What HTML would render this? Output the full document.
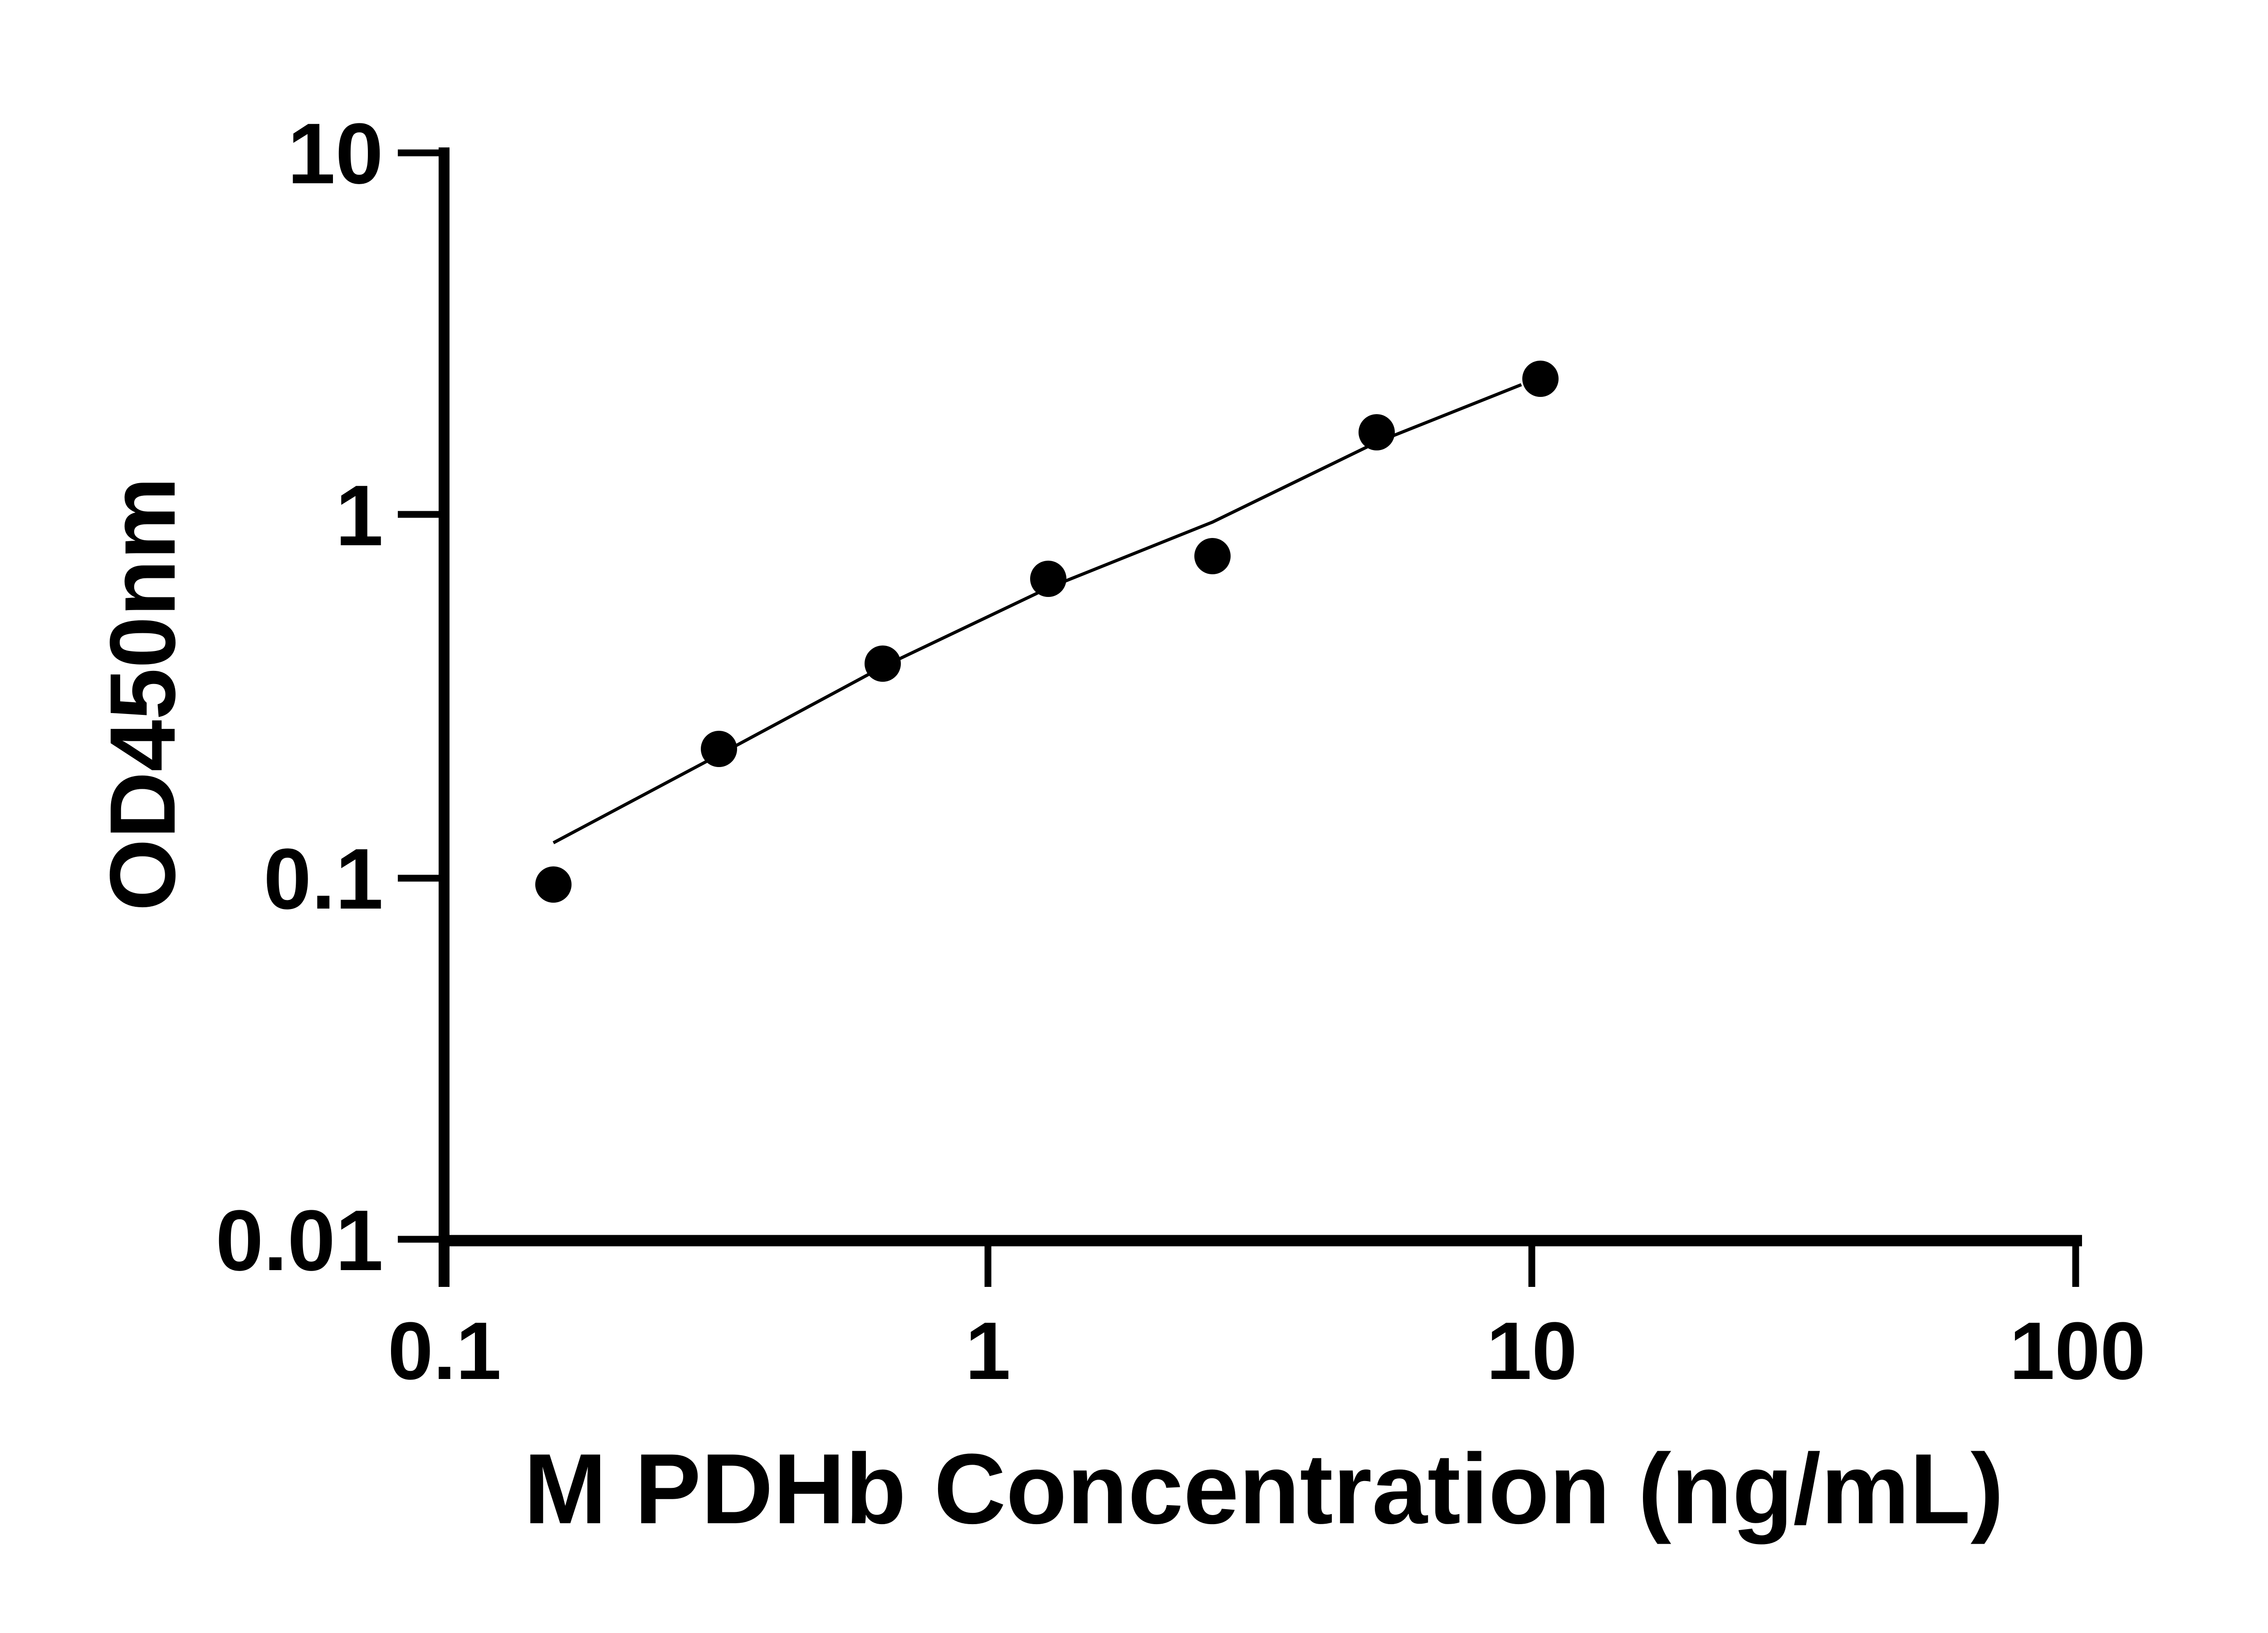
<!DOCTYPE html>
<html><head><style>
html,body{margin:0;padding:0;background:#fff;}
svg{display:block;}
</style></head><body>
<svg width="5130" height="3600" viewBox="0 0 5130 3600" xmlns="http://www.w3.org/2000/svg">
<g stroke="#000" fill="none" stroke-linecap="butt">
<line x1="979" y1="325" x2="979" y2="2837" stroke-width="24"/>
<line x1="968" y1="2735" x2="4590" y2="2735" stroke-width="25"/>
<line x1="877" y1="337" x2="990" y2="337" stroke-width="15"/>
<line x1="877" y1="1134" x2="979" y2="1134" stroke-width="15"/>
<line x1="877" y1="1936" x2="979" y2="1936" stroke-width="15"/>
<line x1="877" y1="2732" x2="979" y2="2732" stroke-width="15"/>
<line x1="2178" y1="2735" x2="2178" y2="2837" stroke-width="15"/>
<line x1="3377" y1="2735" x2="3377" y2="2837" stroke-width="15"/>
<line x1="4576" y1="2725" x2="4576" y2="2837" stroke-width="15"/>
<polyline points="1220,1858 1585,1664 1946,1470 2311,1296 2673,1151 3035,975 3354,848" stroke-width="7"/>
</g>
<g fill="#000">
<circle cx="1220" cy="1950" r="40"/>
<circle cx="1585" cy="1651" r="40"/>
<circle cx="1946" cy="1463" r="40"/>
<circle cx="2311" cy="1276" r="40"/>
<circle cx="2673" cy="1226" r="40"/>
<circle cx="3035" cy="953" r="40"/>
<circle cx="3396" cy="835" r="40"/>
</g>
<g font-family="Liberation Sans, sans-serif" font-weight="bold" font-size="190" text-anchor="end" fill="#000">
<text x="845" y="404">10</text>
<text x="845" y="1202">1</text>
<text x="845" y="2003">0.1</text>
<text x="845" y="2800">0.01</text>
</g>
<g font-family="Liberation Sans, sans-serif" font-weight="bold" font-size="180" text-anchor="middle" fill="#000">
<text x="980" y="3040">0.1</text>
<text x="2178" y="3040">1</text>
<text x="3377" y="3040">10</text>
<text x="4580" y="3040">100</text>
</g>
<text x="2786" y="3358" font-family="Liberation Sans, sans-serif" font-weight="bold" font-size="220" text-anchor="middle" fill="#000">M PDHb Concentration (ng/mL)</text>
<text transform="translate(385,1530) rotate(-90)" font-family="Liberation Sans, sans-serif" font-weight="bold" font-size="205" text-anchor="middle" fill="#000">OD450nm</text>
</svg>
</body></html>
